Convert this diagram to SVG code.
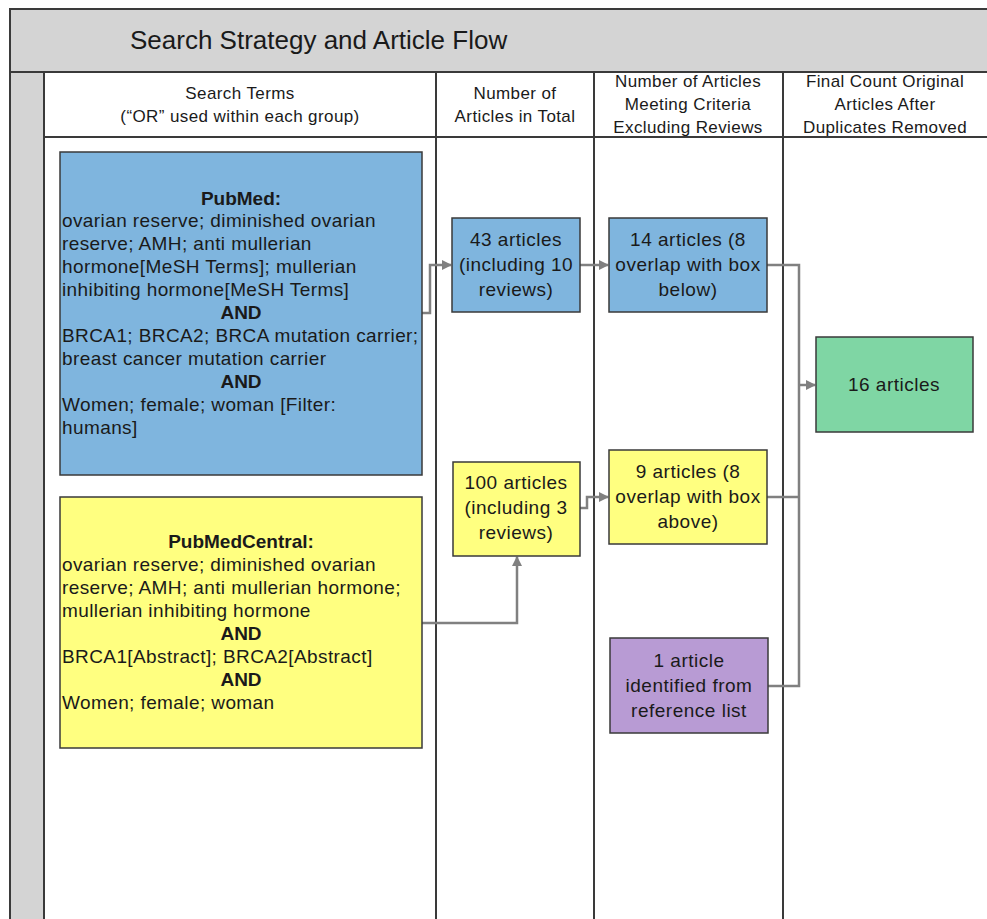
<svg xmlns="http://www.w3.org/2000/svg" width="987" height="919" viewBox="0 0 987 919">
<style>
text{font-family:"Liberation Sans",Arial,sans-serif;fill:#1a1a1a}
.hd{font-size:17px;text-anchor:middle;letter-spacing:0.4px}
.bx{font-size:19px;text-anchor:middle;letter-spacing:0.5px}
.lt{font-size:19px;letter-spacing:0.4px}
.b{font-weight:bold;letter-spacing:0}
.node{stroke:#3a3a3a;stroke-width:1.5}
.col{stroke:#3a3a3a;stroke-width:2;fill:none}
.con{stroke:#808080;stroke-width:2.5;fill:none}
</style>
<defs>
<marker id="ah" viewBox="0 0 10 10" refX="9" refY="5" markerWidth="4" markerHeight="4" orient="auto" markerUnits="strokeWidth">
<path d="M0,0 L10,5 L0,10 z" fill="#808080"/>
</marker>
</defs>
<rect width="987" height="919" fill="#ffffff"/>
<g id="frame">
<rect x="10" y="9" width="985" height="63" fill="#d4d4d4" stroke="#3a3a3a" stroke-width="2"/>
<rect x="10" y="72" width="34" height="850" fill="#d4d4d4" stroke="#3a3a3a" stroke-width="2"/>
<line class="col" x1="44" y1="137" x2="987" y2="137"/>
<line class="col" x1="436" y1="72" x2="436" y2="919"/>
<line class="col" x1="594" y1="72" x2="594" y2="919"/>
<line class="col" x1="783" y1="72" x2="783" y2="919"/>
<text x="130" y="49" font-size="26">Search Strategy and Article Flow</text>
<text class="hd" x="240" y="99">Search Terms</text>
<text class="hd" x="240" y="122">(“OR” used within each group)</text>
<text class="hd" x="515" y="99">Number of</text>
<text class="hd" x="515" y="122">Articles in Total</text>
<text class="hd" x="688" y="87">Number of Articles</text>
<text class="hd" x="688" y="110">Meeting Criteria</text>
<text class="hd" x="688" y="133">Excluding Reviews</text>
<text class="hd" x="885" y="87">Final Count Original</text>
<text class="hd" x="885" y="110">Articles After</text>
<text class="hd" x="885" y="133">Duplicates Removed</text>
</g>
<g id="connectors">
<polyline class="con" points="422,313 430,313 430,265 451,265" marker-end="url(#ah)"/>
<polyline class="con" points="580,265 608,265" marker-end="url(#ah)"/>
<polyline class="con" points="580,508 587,508 587,497 608,497" marker-end="url(#ah)"/>
<polyline class="con" points="422,623 517,623 517,557" marker-end="url(#ah)"/>
<polyline class="con" points="767,265 799,265 799,686 768,686"/>
<polyline class="con" points="767,497 799,497"/>
<polyline class="con" points="799,385 815,385" marker-end="url(#ah)"/>
</g>
<g id="pubmed">
<rect class="node" x="60" y="152" width="362" height="323" fill="#7fb5de"/>
<text class="bx b" x="241" y="205">PubMed:</text>
<text class="lt" x="62" y="227">ovarian reserve; diminished ovarian</text>
<text class="lt" x="62" y="250">reserve; AMH; anti mullerian</text>
<text class="lt" x="62" y="273">hormone[MeSH Terms]; mullerian</text>
<text class="lt" x="62" y="296">inhibiting hormone[MeSH Terms]</text>
<text class="bx b" x="241" y="319">AND</text>
<text class="lt" x="62" y="342">BRCA1; BRCA2; BRCA mutation carrier;</text>
<text class="lt" x="62" y="365">breast cancer mutation carrier</text>
<text class="bx b" x="241" y="388">AND</text>
<text class="lt" x="62" y="411">Women; female; woman [Filter:</text>
<text class="lt" x="62" y="434">humans]</text>
</g>
<g id="pubmedcentral">
<rect class="node" x="60" y="497" width="362" height="251" fill="#ffff80"/>
<text class="bx b" x="241" y="548">PubMedCentral:</text>
<text class="lt" x="62" y="571">ovarian reserve; diminished ovarian</text>
<text class="lt" x="62" y="594">reserve; AMH; anti mullerian hormone;</text>
<text class="lt" x="62" y="617">mullerian inhibiting hormone</text>
<text class="bx b" x="241" y="640">AND</text>
<text class="lt" x="62" y="663">BRCA1[Abstract]; BRCA2[Abstract]</text>
<text class="bx b" x="241" y="686">AND</text>
<text class="lt" x="62" y="709">Women; female; woman</text>
</g>
<g id="n43">
<rect class="node" x="452" y="218" width="128" height="94" fill="#7fb5de"/>
<text class="bx" x="516" y="246">43 articles</text>
<text class="bx" x="516" y="271">(including 10</text>
<text class="bx" x="516" y="296">reviews)</text>
</g>
<g id="n14">
<rect class="node" x="609" y="218" width="158" height="94" fill="#7fb5de"/>
<text class="bx" x="688" y="246">14 articles (8</text>
<text class="bx" x="688" y="271">overlap with box</text>
<text class="bx" x="688" y="296">below)</text>
</g>
<g id="n100">
<rect class="node" x="453" y="462" width="127" height="94" fill="#ffff80"/>
<text class="bx" x="516" y="489">100 articles</text>
<text class="bx" x="516" y="514">(including 3</text>
<text class="bx" x="516" y="539">reviews)</text>
</g>
<g id="n9">
<rect class="node" x="609" y="450" width="158" height="94" fill="#ffff80"/>
<text class="bx" x="688" y="478">9 articles (8</text>
<text class="bx" x="688" y="503">overlap with box</text>
<text class="bx" x="688" y="528">above)</text>
</g>
<g id="n1">
<rect class="node" x="610" y="638" width="158" height="95" fill="#b89bd4"/>
<text class="bx" x="689" y="667">1 article</text>
<text class="bx" x="689" y="692">identified from</text>
<text class="bx" x="689" y="717">reference list</text>
</g>
<g id="n16">
<rect class="node" x="816" y="337" width="157" height="95" fill="#7fd6a4"/>
<text class="bx" x="894" y="391">16 articles</text>
</g>
</svg>
